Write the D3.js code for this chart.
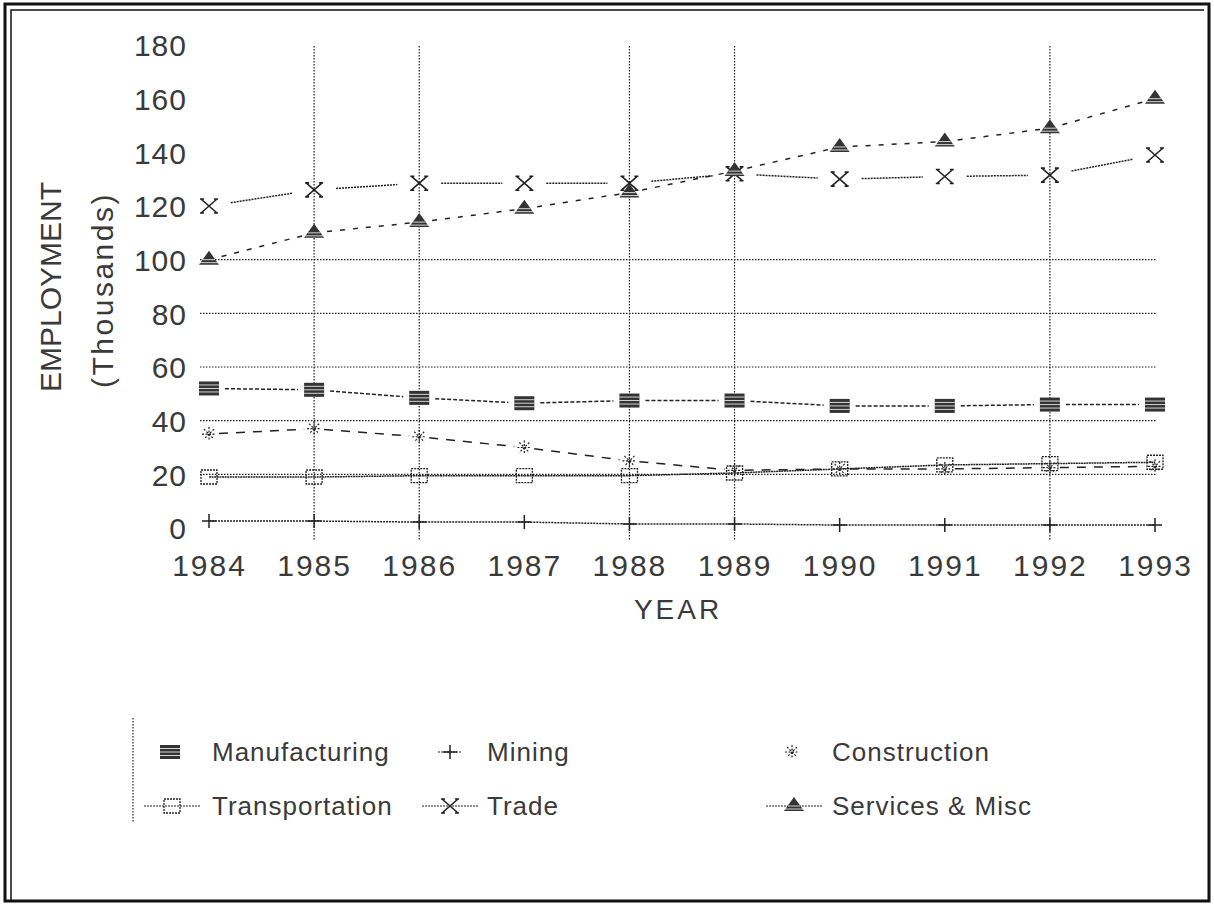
<!DOCTYPE html>
<html>
<head>
<meta charset="utf-8">
<script src="https://cdn.jsdelivr.net/npm/d3@7"></script>
<style>
  body { margin: 0; background: #fff; }
  text { font-family: "Liberation Sans", Arial, sans-serif; fill: #3a3a3a; }
</style>
</head>
<body>
<div id="chart"></div>
<script>
var years = [1984, 1985, 1986, 1987, 1988, 1989, 1990, 1991, 1992, 1993];
var manufacturing = [52, 51.5, 48.5, 46.5, 47.5, 47.5, 45.5, 45.5, 46, 46];
var mining = [2.6, 2.6, 2.2, 2.2, 1.5, 1.5, 1.1, 1.1, 1.1, 1.1];
var construction = [35, 37, 34, 30, 25, 21.5, 22, 22, 22.5, 23];
var transportation = [19, 19, 19.5, 19.5, 19.5, 20.5, 22, 23.5, 24, 24.5];
var trade = [120, 126, 128.5, 128.5, 128.5, 132, 130, 131, 131.5, 139];
var services = [100, 110, 114, 119, 125, 133, 142, 144, 149, 160];
var yTicks = [0, 20, 40, 60, 80, 100, 120, 140, 160, 180];
var hGrid = [20, 40, 60, 80, 100];
var vGrid = [1985, 1986, 1988, 1989, 1992];

var w = 1214, h = 905;
var svg = d3.select("#chart").append("svg")
    .attr("width", w).attr("height", h);

// frame
svg.append("rect").attr("x", 5).attr("y", 4).attr("width", 1204).attr("height", 897)
    .attr("fill", "none").attr("stroke", "#111").attr("stroke-width", 3);
svg.append("path").attr("d", "M11,900V10H1204")
    .attr("fill", "none").attr("stroke", "#111").attr("stroke-width", 1.5);

var x = d3.scaleLinear().domain([1984, 1993]).range([209, 1155]);
var y = d3.scaleLinear().domain([0, 180]).range([528, 45]);

// grid
svg.selectAll("line.h").data(hGrid).enter().append("line")
    .attr("x1", 200).attr("x2", 1157)
    .attr("y1", function(d) { return y(d); })
    .attr("y2", function(d) { return y(d); })
    .attr("stroke", "#222").attr("stroke-width", 1.2).attr("stroke-dasharray", "1.5,1.5");
svg.selectAll("line.v").data(vGrid).enter().append("line")
    .attr("x1", function(d) { return x(d); })
    .attr("x2", function(d) { return x(d); })
    .attr("y1", 46).attr("y2", 541)
    .attr("stroke", "#222").attr("stroke-width", 1.2).attr("stroke-dasharray", "1.5,1.5");

// axes labels (ticks drawn as text only, like the original)
var yAxis = d3.axisLeft(y).tickValues(yTicks).tickSize(0).tickPadding(0);
var gy = svg.append("g").attr("transform", "translate(187,0)").call(yAxis);
gy.select(".domain").remove();
gy.selectAll("text").attr("font-size", "30px").attr("letter-spacing", "1px")
    .attr("font-family", "Liberation Sans").attr("fill", "#3a3a3a").attr("dy", "0.36em");

var xAxis = d3.axisBottom(x).tickValues(years).tickFormat(d3.format("d")).tickSize(0).tickPadding(0);
var gx = svg.append("g").attr("transform", "translate(0,555)").call(xAxis);
gx.select(".domain").remove();
gx.selectAll("text").attr("font-size", "30px").attr("letter-spacing", "2px")
    .attr("font-family", "Liberation Sans").attr("fill", "#3a3a3a").attr("dy", "0.71em");

svg.append("text").attr("x", 678).attr("y", 619).attr("text-anchor", "middle")
    .attr("font-size", "28px").attr("letter-spacing", "3px").text("YEAR");
svg.append("text").attr("transform", "translate(61,287) rotate(-90)")
    .attr("text-anchor", "middle").attr("font-size", "30px").text("EMPLOYMENT");
svg.append("text").attr("transform", "translate(113,290) rotate(-90)")
    .attr("text-anchor", "middle").attr("font-size", "30px").attr("letter-spacing", "2.5px")
    .text("(Thousands)");

// marker shapes
function marker(g, type, cx, cy) {
    var s = g.append("g").attr("transform", "translate(" + cx + "," + cy + ")");
    if (type === "manu") {
        s.append("rect").attr("x", -10).attr("y", -7).attr("width", 20).attr("height", 14)
            .attr("fill", "#333");
        s.append("path").attr("d", "M-10,-3.5H10M-10,0H10M-10,3.5H10")
            .attr("stroke", "#fff").attr("stroke-width", 0.8);
    } else if (type === "mining") {
        s.append("path").attr("d", "M-7,0H7M0,-7V7")
            .attr("stroke", "#222").attr("stroke-width", 1.5);
    } else if (type === "constr") {
        s.append("path").attr("d", "M-7,0H7M0,-7V6M-5,-5L5,5M5,-5L-5,5")
            .attr("stroke", "#222").attr("stroke-width", 1.2).attr("stroke-dasharray", "2,1.5");
    } else if (type === "transp") {
        s.append("rect").attr("x", -8).attr("y", -7).attr("width", 16).attr("height", 14)
            .attr("fill", "none").attr("stroke", "#222").attr("stroke-width", 1.3)
            .attr("stroke-dasharray", "2,1");
    } else if (type === "trade") {
        s.append("path").attr("d", "M-8,-7L8,7M8,-7L-8,7M-9,-7H-5M5,-7H9M-9,7H-5M5,7H9")
            .attr("stroke", "#222").attr("stroke-width", 1.6);
    } else if (type === "serv") {
        s.append("path").attr("d", "M0,-9L10,5H-10Z").attr("fill", "#333");
        s.append("path").attr("d", "M-6,0H6M-9,3H9").attr("stroke", "#fff").attr("stroke-width", 0.8);
    }
}

var series = [
    { name: "Manufacturing", values: manufacturing, type: "manu", dash: "4,2", gap: 16 },
    { name: "Mining", values: mining, type: "mining", dash: "2,1", gap: 0 },
    { name: "Construction", values: construction, type: "constr", dash: "9,8", gap: 10 },
    { name: "Transportation", values: transportation, type: "transp", dash: "2,0.6", gap: 0 },
    { name: "Trade", values: trade, type: "trade", dash: "2,1", gap: 22 },
    { name: "Services & Misc", values: services, type: "serv", dash: "5,8", gap: 0 }
];

var line = d3.line();
series.forEach(function(s) {
    var g = svg.append("g");
    for (var i = 0; i < years.length - 1; i++) {
        var x0 = x(years[i]), y0 = y(s.values[i]);
        var x1 = x(years[i + 1]), y1 = y(s.values[i + 1]);
        var len = Math.hypot(x1 - x0, y1 - y0);
        var ux = (x1 - x0) / len, uy = (y1 - y0) / len;
        g.append("path")
            .attr("d", line([[x0 + ux * s.gap, y0 + uy * s.gap], [x1 - ux * s.gap, y1 - uy * s.gap]]))
            .attr("fill", "none").attr("stroke", "#222").attr("stroke-width", 1.5)
            .attr("stroke-dasharray", s.dash);
    }
    years.forEach(function(yr, i) {
        marker(g, s.type, x(yr), y(s.values[i]));
    });
});

// legend
svg.append("line").attr("x1", 133).attr("x2", 133).attr("y1", 718).attr("y2", 822)
    .attr("stroke", "#222").attr("stroke-width", 1.2).attr("stroke-dasharray", "1.5,1.5");
var legendPos = [
    { x: 170, tx: 212, y: 752, line: false },
    { x: 450, tx: 487, y: 752, line: true, short: true },
    { x: 792, tx: 832, y: 752, line: false },
    { x: 172, tx: 212, y: 806, line: true },
    { x: 450, tx: 487, y: 806, line: true },
    { x: 794, tx: 832, y: 806, line: true }
];
series.forEach(function(s, i) {
    var p = legendPos[i];
    var g = svg.append("g");
    if (p.line) {
        var half = p.short ? 12 : 28;
        g.append("line").attr("x1", p.x - half).attr("x2", p.x + half)
            .attr("y1", p.y).attr("y2", p.y)
            .attr("stroke", "#222").attr("stroke-width", 1.2).attr("stroke-dasharray", "2,1");
    }
    marker(g, s.type, p.x, p.y);
    g.append("text").attr("x", p.tx).attr("y", p.y + 9)
        .attr("font-size", "26px").attr("letter-spacing", "1px").text(s.name);
});
</script>
</body>
</html>
